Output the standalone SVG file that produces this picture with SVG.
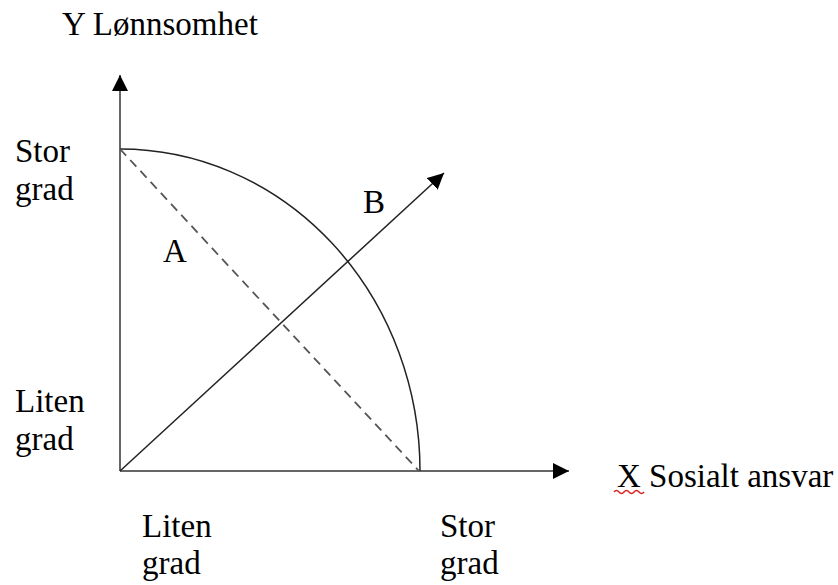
<svg xmlns="http://www.w3.org/2000/svg" width="838" height="585" viewBox="0 0 838 585">
<defs>
<style>
text{font-family:"Liberation Serif","Times New Roman",serif;font-size:33px;fill:#000}
.ax{stroke:#666;stroke-width:2;fill:none}
.ln{stroke:#222;stroke-width:1.5;fill:none}
.dash{stroke:#555;stroke-width:1.8;stroke-dasharray:9 6;fill:none}
</style>
<marker id="ah" viewBox="0 0 10 10" refX="10" refY="5" markerWidth="16" markerHeight="16" markerUnits="userSpaceOnUse" orient="auto">
<path d="M0,0 L10,5 L0,10 z" fill="#000"/>
</marker>
</defs>
<rect width="838" height="585" fill="#fff"/>
<g id="connectors">
<line class="ax" x1="120" y1="471" x2="120" y2="75" marker-end="url(#ah)"/>
<line class="ax" x1="120" y1="471" x2="569" y2="471" marker-end="url(#ah)"/>
<line class="ln" x1="120" y1="471" x2="444" y2="173" marker-end="url(#ah)"/>
<path class="ln" d="M120,149 A300,322 0 0 1 420,471"/>
<line class="dash" x1="120" y1="149" x2="419" y2="471"/>
</g>
<g id="labels">
<text x="62" y="35">Y Lønnsomhet</text>
<text x="15" y="162">Stor</text>
<text x="15" y="200">grad</text>
<text x="15" y="412">Liten</text>
<text x="15" y="450">grad</text>
<text x="142" y="537">Liten</text>
<text x="142" y="574">grad</text>
<text x="440" y="537">Stor</text>
<text x="440" y="574">grad</text>
<text x="163" y="262">A</text>
<text x="363" y="213">B</text>
<text x="617" y="487">X Sosialt ansvar</text>
<path d="M614,492 q2.5,-3 5,0 t5,0 t5,0 t5,0 t5,0 t5,0" stroke="#d22" stroke-width="1.5" fill="none"/>
</g>
</svg>
